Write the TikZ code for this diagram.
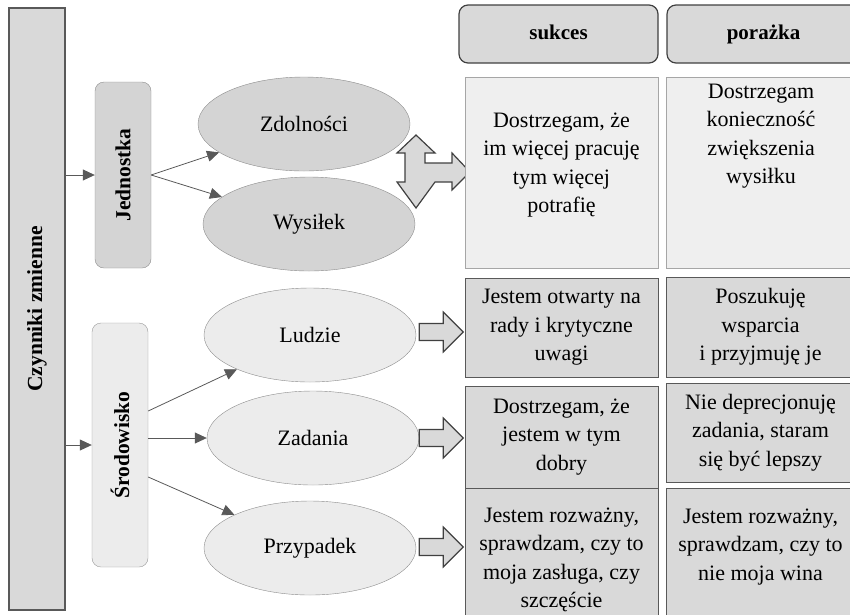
\documentclass[tikz,border=0pt]{standalone}
\usepackage{fontspec}
\setmainfont{Liberation Serif}
\usepackage{graphicx}
\usetikzlibrary{arrows.meta,shapes.geometric,positioning}
\definecolor{darkfill}{HTML}{D4D4D4}
\definecolor{lightfill}{HTML}{ECECEC}
\definecolor{cellfill}{HTML}{D9D9D9}
\definecolor{palefill}{HTML}{EFEFEF}
\definecolor{edge}{HTML}{595959}
\definecolor{softedge}{HTML}{8C8C8C}
\begin{document}
\begin{tikzpicture}[x=1pt, y=-1pt, font=\fontsize{22}{28.5}\selectfont,
    bar/.style={draw=edge, line width=1.2pt, fill=cellfill, minimum width=56pt, inner sep=0pt,
      font=\fontsize{21.5}{25}\selectfont\bfseries},
    group/.style={draw=softedge, rounded corners=9pt, minimum width=56pt, inner sep=0pt,
      font=\fontsize{21.5}{25}\selectfont\bfseries},
    factor/.style={ellipse, draw=softedge, minimum width=212pt, minimum height=94pt},
    conn/.style={draw=edge, line width=.8pt, -{Triangle[length=12pt,width=11pt]}},
    head/.style={draw=black!75, line width=1.2pt, fill=cellfill, rounded corners=9pt,
      minimum height=58pt, text height=15pt, text depth=4pt,
      font=\fontsize{21}{25}\selectfont\bfseries},
    cell/.style={draw=edge, line width=.9pt, fill=cellfill, inner sep=0pt, align=center},
    pale/.style={cell, draw=black!35, fill=palefill},
    txt/.style={align=center, inner sep=0pt},
    barrow/.style={draw=black!75, line width=1.2pt, fill=cellfill, line join=miter},
    blockarr/.pic={\path[barrow] (0,-8.5) -- (24,-8.5) -- (24,-20) -- (44,0) -- (24,20)
      -- (24,8.5) -- (0,8.5) -- cycle;}]
  \useasboundingbox (0,0) rectangle (850,614);
  % left side
  \node[bar, minimum height=602pt] (czynniki) at (37,309) {\rotatebox{90}{Czynniki zmienne}};
  \node[group, fill=darkfill, minimum height=186pt] (jedn) at (123,175) {\rotatebox{90}{Jednostka}};
  \node[group, fill=lightfill, draw=black!40, minimum height=244pt] (srod) at (120,445) {\rotatebox{90}{Środowisko}};
  \node[factor, fill=darkfill] (zdol) at (304,124) {Zdolności};
  \node[factor, fill=darkfill] (wysil) at (309,224) {Wysiłek};
  \node[factor, fill=lightfill] (ludzie) at (310,335) {Ludzie};
  \node[factor, fill=lightfill] (zadania) at (313,438) {Zadania};
  \node[factor, fill=lightfill] (przyp) at (310,548) {Przypadek};
  \draw[conn] (czynniki.east |- jedn) -- (jedn.west);
  \draw[conn] (czynniki.east |- srod) -- (srod.west);
  \draw[conn] (jedn.east) -- (zdol);
  \draw[conn] (jedn.east) -- (wysil);
  \draw[conn] ([yshift=34pt]srod.east) -- (ludzie);
  \draw[conn] (srod.east |- zadania) -- (zadania);
  \draw[conn] ([yshift=-32pt]srod.east) -- (przyp);
  % block arrows
  \path[barrow] (416,135) -- (435,153) -- (425,153) -- (425,163) -- (452,163) -- (452,153)
    -- (470,172) -- (452,190) -- (452,182) -- (435,182) -- (416,208) -- (397,182)
    -- (405,182) -- (405,153) -- (397,153) -- cycle;
  \pic at ([xshift=3pt, yshift=3pt]ludzie.east) {blockarr};
  \pic at (zadania.east) {blockarr};
  \pic at ([xshift=3pt, yshift=1pt]przyp.east) {blockarr};
  % table
  \node[head, minimum width=199pt] (sukces) at (558.5,34) {sukces};
  \node[head, minimum width=193pt] (porazka) at (763.5,34) {porażka};
  \node[pale, minimum width=193pt, minimum height=191pt] (r1a) at (561.5,172.5) {};
  \node[pale, minimum width=189pt, minimum height=191pt] (r1b) at (760.5,172.5) {};
  \node[txt] (r1at) at (561.5,165) {Dostrzegam, że\\im więcej pracuję\\tym więcej\\potrafię};
  \node[txt] (r1bt) at (761,136) {Dostrzegam\\konieczność\\zwiększenia\\wysiłku};
  \node[cell, minimum width=193pt, minimum height=99pt] (r2a) at (561.5,327.5) {Jestem otwarty na\\rady i krytyczne\\uwagi};
  \node[cell, minimum width=189pt, minimum height=100pt] (r2b) at (760.5,327) {Poszukuję\\wsparcia\\i przyjmuję je};
  \node[cell, minimum width=193pt, minimum height=102pt] (r3a) at (561.5,437) {Dostrzegam, że\\jestem w tym\\dobry};
  \node[cell, minimum width=189pt, minimum height=99pt] (r3b) at (760.5,432.5) {Nie deprecjonuję\\zadania, staram\\się być lepszy};
  \node[cell, minimum width=193pt, minimum height=132pt] (r4a) at (561.5,554) {};
  \node[cell, minimum width=189pt, minimum height=132pt] (r4b) at (760.5,554) {};
  \node[txt] (r4at) at (561.5,560) {Jestem rozważny,\\sprawdzam, czy to\\moja zasługa, czy\\szczęście};
  \node[txt] (r4bt) at (760.5,547) {Jestem rozważny,\\sprawdzam, czy to\\nie moja wina};
\end{tikzpicture}
\end{document}
